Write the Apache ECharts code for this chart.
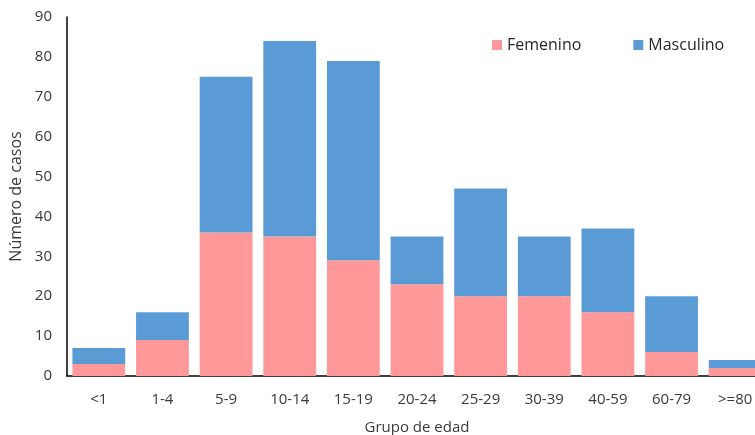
<!DOCTYPE html>
<html>
<head>
<meta charset="utf-8">
<script src="https://cdn.jsdelivr.net/npm/echarts@6/dist/echarts.min.js"></script>
<style>html,body{margin:0;padding:0;background:#fff;}#c{width:755px;height:435px;}</style>
</head>
<body>
<div id="c"></div>
<script>
var categories = ['<1','1-4','5-9','10-14','15-19','20-24','25-29','30-39','40-59','60-79','>=80'];
var femenino = [3, 9, 36, 35, 29, 23, 20, 20, 16, 6, 2];
var masculino = [4, 7, 39, 49, 50, 12, 27, 15, 21, 14, 2];
var yTicks = [0,10,20,30,40,50,60,70,80,90];

var chart = echarts.init(document.getElementById('c'), null, {renderer:'canvas'});
var font = "'Open Sans', sans-serif";
chart.setOption({
  animation: false,
  backgroundColor: '#ffffff',
  textStyle: {fontFamily: font},
  legend: {
    left: 487, top: 32,
    itemWidth: 10, itemHeight: 10, itemGap: 52,
    icon: 'rect',
    textStyle: {fontSize: 16, color: '#262626', fontFamily: font},
    data: ['Femenino','Masculino']
  },
  grid: {left: 67, top: 17, width: 700, height: 359, containLabel: false, outerBoundsMode: 'none'},
  xAxis: {
    type: 'category',
    data: categories,
    name: 'Grupo de edad',
    nameLocation: 'middle',
    nameGap: 44,
    nameTextStyle: {fontSize: 15, color: '#3a3a3a', fontFamily: font},
    axisLine: {lineStyle: {color: '#000', width: 1.5}},
    axisTick: {show: false},
    axisLabel: {fontSize: 15, color: '#3a3a3a', margin: 16, interval: 0, fontFamily: font}
  },
  yAxis: {
    type: 'value',
    min: yTicks[0], max: yTicks[yTicks.length-1], interval: 10,
    name: 'Número de casos',
    nameLocation: 'middle',
    nameGap: 36,
    nameTextStyle: {fontSize: 16, color: '#3a3a3a', fontFamily: font},
    axisLine: {show: true, lineStyle: {color: '#000', width: 1.5}},
    axisTick: {show: false},
    splitLine: {show: false},
    axisLabel: {fontSize: 15, color: '#3a3a3a', margin: 15, fontFamily: font}
  },
  series: [
    {name: 'Femenino', type: 'bar', stack: 'a', data: femenino, barCategoryGap: '17%',
     itemStyle: {color: '#FF9999'}},
    {name: 'Masculino', type: 'bar', stack: 'a', data: masculino, barCategoryGap: '17%',
     itemStyle: {color: '#5B9BD5'}}
  ]
});
</script>
</body>
</html>
